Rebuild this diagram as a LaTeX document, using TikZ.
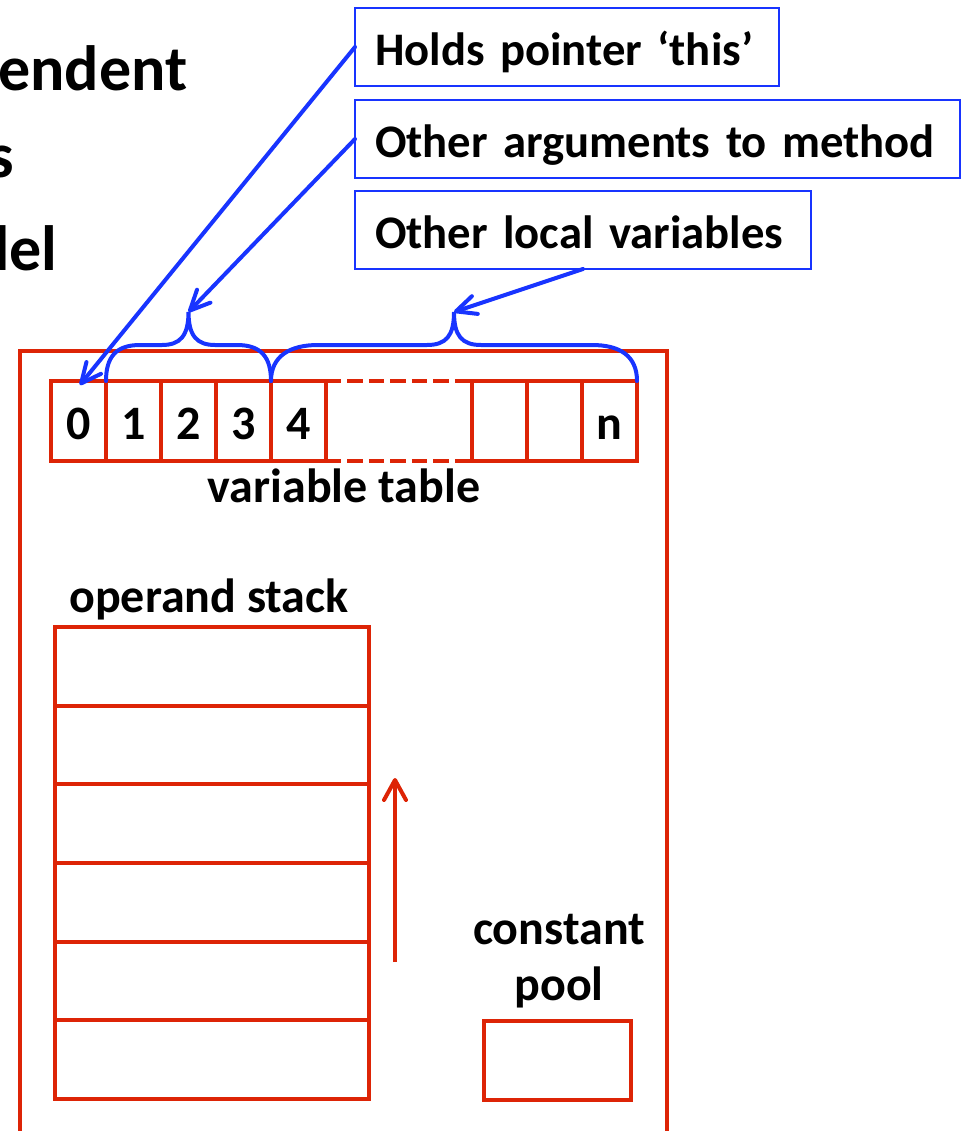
\documentclass[tikz,border=0pt]{standalone}
\usepackage{fontspec}
\setmainfont{Carlito}
\usetikzlibrary{arrows.meta}
\definecolor{framered}{RGB}{221,36,6}
\definecolor{noteblue}{RGB}{24,52,255}
\tikzset{every picture/.style={line width=0.75pt}}
\tikzset{
  txt/.style={inner sep=0pt, font=\bfseries\fontsize{36}{42}\selectfont},
  head/.style={inner sep=0pt, font=\bfseries\fontsize{48}{56}\selectfont},
  note/.style={txt, font=\bfseries\fontsize{35}{42}\selectfont, draw=noteblue, line width=1.5pt,
    outer sep=0pt, anchor=west, align=left, inner xsep=15pt, minimum height=58.5pt,
    text height=34.2pt, text depth=7.2pt},
  cell/.style={txt, draw=framered, line width=3pt, outer sep=0pt, minimum width=41.25pt,
    minimum height=60pt, text height=34.2pt, text depth=7.2pt},
  slot/.style={draw=framered, line width=3pt, outer sep=0pt, minimum width=235.5pt, minimum height=59pt},
  pointer/.style={draw=noteblue, line width=3pt, line cap=round, -{Straight Barb[length=15pt,width=14pt,round]}},
  push/.style={draw=framered, line width=3pt, -{Straight Barb[length=15pt,width=16.5pt,round]}},
}

\begin{document}
\begin{tikzpicture}[x=0.75pt,y=0.75pt,yscale=-1,xscale=1]
\useasboundingbox (0,0) rectangle (961,1131);
\clip (0,0) rectangle (961,1131);

% Text Node
\draw (188,90) node [head, anchor=base east] (wa) {endent};
% Text Node
\draw (15,177) node [head, anchor=base east] (wb) {s};
% Text Node
\draw (58,270) node [head, anchor=base east] (wc) {del};

%Shape: Rectangle
\draw (355,47) node [note, text width=288pt] (hold) {\mbox{Holds pointer ‘this’}};
%Shape: Rectangle
\draw (355,139) node [note, text width=423.75pt] (args) {\mbox{Other arguments to method}};
%Shape: Rectangle
\draw (355,230) node [note, text width=312pt] (locals) {\mbox{Other local variables}};

%Shape: Frame
\draw [draw=framered, line width=3pt] (20,1160) -- (20,351) -- (667,351) -- (667,1160);

%Shape: Variable table
\draw (78.5,421) node [cell] (v0) {0};
\draw (133.5,421) node [cell] (v1) {1};
\draw (188.5,421) node [cell] (v2) {2};
\draw (243.5,421) node [cell] (v3) {3};
\draw (298.5,421) node [cell] (v4) {4};
\draw (499.5,421) node [cell] (w1) {};
\draw (554.5,421) node [cell] (w2) {};
\draw (609.5,421) node [cell] (vn) {n};
%Dashed Lines
\draw [draw=framered, line width=3pt, dash pattern=on 11.5pt off 4.6pt] (v4.north east) -- (w1.north west);
\draw [draw=framered, line width=3pt, dash pattern=on 11.5pt off 4.6pt] (v4.south east) -- (w1.south west);
% Text Node
\draw (344,502) node [txt, anchor=base] (vtab) {variable table};

%Curve Lines
\draw [draw=noteblue, line width=3pt, line cap=round] (106,381) .. controls (106,357) and (116,345) .. (140,345) -- (162,345) .. controls (180,345) and (188.5,336) .. (188.5,312) .. controls (188.5,336) and (197,345) .. (215,345) -- (237,345) .. controls (261,345) and (271,357) .. (271,381) ;
\coordinate (tipa) at (188.5,312);
%Curve Lines
\draw [draw=noteblue, line width=3pt, line cap=round] (271,381) .. controls (271,356) and (290,345) .. (318,345) -- (427,345) .. controls (446,345) and (454,336) .. (454,312) .. controls (454,336) and (462,345) .. (481,345) -- (592,345) .. controls (620,345) and (637,356) .. (637,381) ;
\coordinate (tipb) at (454,312);

%Straight Lines
\draw [pointer] (hold.west) -- ([xshift=1pt,yshift=3pt]v0.north);
\draw [pointer] (args.west) -- (tipa);
\draw [pointer] (locals.south) -- (tipb);

% Text Node
\draw (209,612) node [txt, anchor=base] (ostk) {operand stack};
%Shape: Operand stack
\draw (212,666.3) node [slot] (s1) {};
\draw (212,745) node [slot] (s2) {};
\draw (212,823.7) node [slot] (s3) {};
\draw (212,902.4) node [slot] (s4) {};
\draw (212,981.1) node [slot] (s5) {};
\draw (212,1059.8) node [slot] (s6) {};

%Straight Lines
\coordinate (pushfrom) at (395,962);
\coordinate (pushto) at (395,778);
\draw [push] (pushfrom) -- (pushto);

% Text Node
\draw (559,944) node [txt, anchor=base] (cpa) {constant};
% Text Node
\draw (559,1000) node [txt, anchor=base] (cpb) {pool};
%Shape: Rectangle
\draw (557.5,1060.5) node [slot, minimum width=110.25pt, minimum height=59.25pt] (cpool) {};

\end{tikzpicture}
\end{document}
